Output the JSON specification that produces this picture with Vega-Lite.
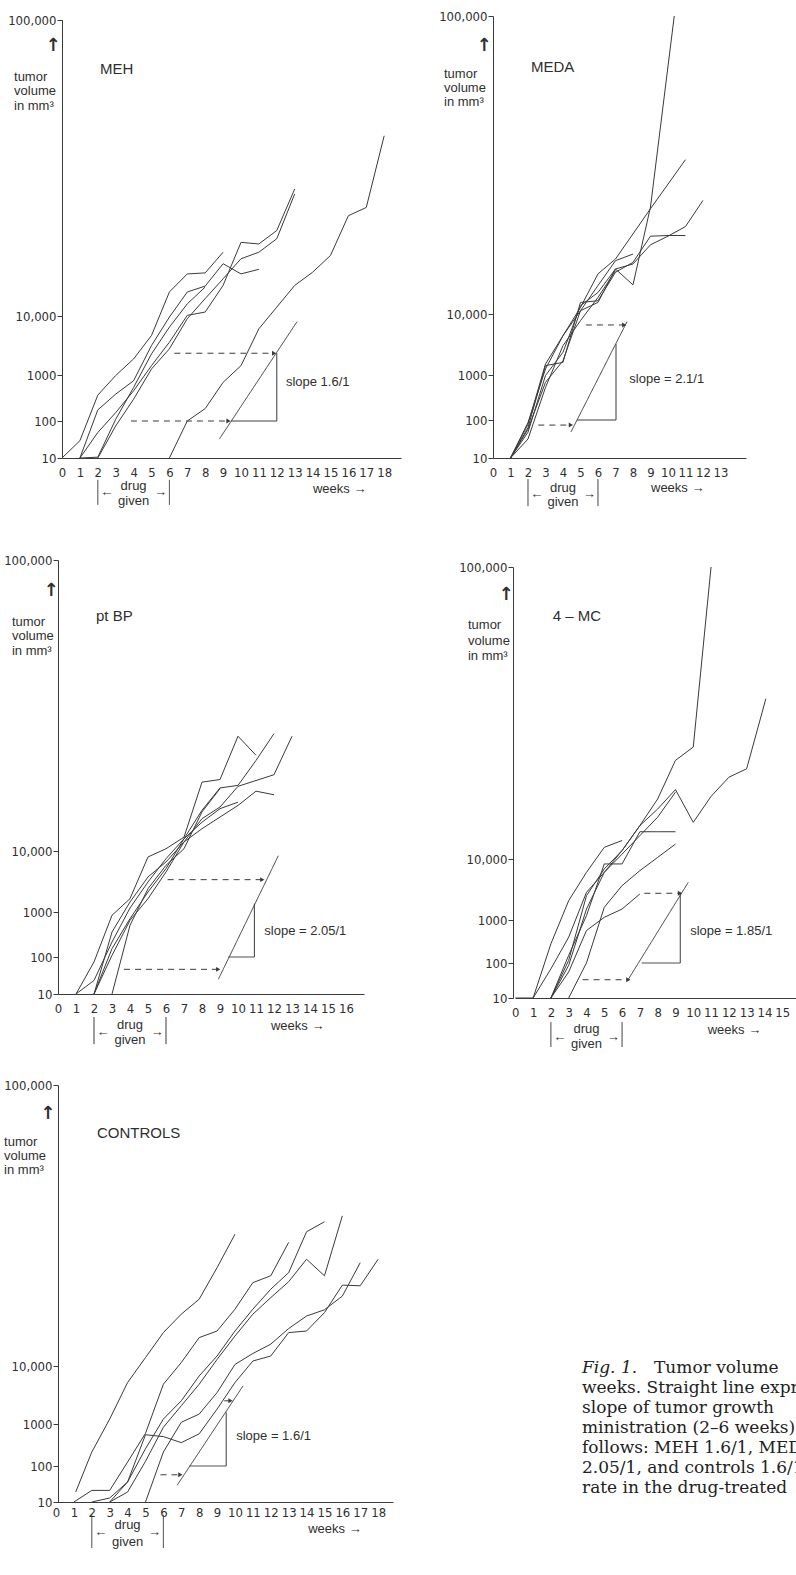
{
"$schema": "https://vega.github.io/schema/vega-lite/v6.json",
"background": "white",
"padding": {"left": 3, "top": 10, "right": 0, "bottom": 0},
"autosize": {"type": "pad"},
"columns": 2,
"spacing": {"row": 87, "column": 92},
"align": "each",
"bounds": "flush",
"config": {
  "view": {"stroke": null},
  "axis": {"grid": false, "domainColor": "#3a3a3a", "domainWidth": 1, "tickColor": "#3a3a3a", "tickWidth": 1, "labelColor": "#2f2f2f", "labelFont": "Liberation Sans Narrow, DejaVu Sans Condensed, Liberation Sans", "labelFontSize": 13, "labelFlush": false, "labelOverlap": false, "labelBound": false},
  "axisY": {"tickSize": 5, "labelPadding": 1},
  "axisX": {"ticks": false, "labelPadding": 8},
  "text": {"font": "Liberation Sans", "color": "#2f2f2f"},
  "line": {"color": "#3a3a3a", "strokeWidth": 1},
  "rule": {"color": "#3a3a3a", "strokeWidth": 1}
},
"datasets": {
"curves": [
{"panel":"MEH","id":"a","week":0,"vol":10},{"panel":"MEH","id":"a","week":1,"vol":52},{"panel":"MEH","id":"a","week":2,"vol":606},{"panel":"MEH","id":"a","week":3,"vol":990},{"panel":"MEH","id":"a","week":4,"vol":3450},{"panel":"MEH","id":"a","week":5,"vol":7030},{"panel":"MEH","id":"a","week":6,"vol":17300},{"panel":"MEH","id":"a","week":7,"vol":22800},{"panel":"MEH","id":"a","week":8,"vol":23100},{"panel":"MEH","id":"a","week":9,"vol":29400},
{"panel":"MEH","id":"b","week":1,"vol":10},{"panel":"MEH","id":"b","week":2,"vol":317},{"panel":"MEH","id":"b","week":3,"vol":626},{"panel":"MEH","id":"b","week":4,"vol":888},{"panel":"MEH","id":"b","week":5,"vol":5500},{"panel":"MEH","id":"b","week":6,"vol":9840},{"panel":"MEH","id":"b","week":7,"vol":17300},{"panel":"MEH","id":"b","week":8,"vol":19100},{"panel":"MEH","id":"b","week":9,"vol":25900},{"panel":"MEH","id":"b","week":10,"vol":22800},{"panel":"MEH","id":"b","week":11,"vol":24200},
{"panel":"MEH","id":"c","week":1,"vol":10},{"panel":"MEH","id":"c","week":2,"vol":12},{"panel":"MEH","id":"c","week":3,"vol":133},{"panel":"MEH","id":"c","week":4,"vol":757},{"panel":"MEH","id":"c","week":5,"vol":4220},{"panel":"MEH","id":"c","week":6,"vol":8300},{"panel":"MEH","id":"c","week":7,"vol":13700},{"panel":"MEH","id":"c","week":8,"vol":18800},
{"panel":"MEH","id":"d","week":1,"vol":10},{"panel":"MEH","id":"d","week":2,"vol":72},{"panel":"MEH","id":"d","week":3,"vol":264},{"panel":"MEH","id":"d","week":4,"vol":691},{"panel":"MEH","id":"d","week":5,"vol":2430},{"panel":"MEH","id":"d","week":6,"vol":6000},{"panel":"MEH","id":"d","week":7,"vol":10200},{"panel":"MEH","id":"d","week":8,"vol":11200},{"panel":"MEH","id":"d","week":9,"vol":19300},{"panel":"MEH","id":"d","week":10,"vol":32400},{"panel":"MEH","id":"d","week":11,"vol":31900},{"panel":"MEH","id":"d","week":12,"vol":36000},{"panel":"MEH","id":"d","week":13,"vol":48600},
{"panel":"MEH","id":"e","week":2,"vol":10},{"panel":"MEH","id":"e","week":3,"vol":88},{"panel":"MEH","id":"e","week":4,"vol":527},{"panel":"MEH","id":"e","week":5,"vol":1920},{"panel":"MEH","id":"e","week":6,"vol":4990},{"panel":"MEH","id":"e","week":7,"vol":9590},{"panel":"MEH","id":"e","week":8,"vol":15300},{"panel":"MEH","id":"e","week":9,"vol":21300},{"panel":"MEH","id":"e","week":10,"vol":27400},{"panel":"MEH","id":"e","week":11,"vol":29400},{"panel":"MEH","id":"e","week":12,"vol":33500},{"panel":"MEH","id":"e","week":13,"vol":47100},
{"panel":"MEH","id":"f","week":6,"vol":10},{"panel":"MEH","id":"f","week":7,"vol":100},{"panel":"MEH","id":"f","week":8,"vol":343},{"panel":"MEH","id":"f","week":9,"vol":856},{"panel":"MEH","id":"f","week":10,"vol":2430},{"panel":"MEH","id":"f","week":11,"vol":8050},{"panel":"MEH","id":"f","week":12,"vol":12700},{"panel":"MEH","id":"f","week":13,"vol":19300},{"panel":"MEH","id":"f","week":14,"vol":23300},{"panel":"MEH","id":"f","week":15,"vol":28400},{"panel":"MEH","id":"f","week":16,"vol":40500},{"panel":"MEH","id":"f","week":17,"vol":43000},{"panel":"MEH","id":"f","week":18,"vol":64800},
{"panel":"MEDA","id":"m1","week":1,"vol":10},{"panel":"MEDA","id":"m1","week":2,"vol":78},{"panel":"MEDA","id":"m1","week":3,"vol":853},{"panel":"MEDA","id":"m1","week":4,"vol":3100},{"panel":"MEDA","id":"m1","week":5,"vol":11000},{"panel":"MEDA","id":"m1","week":6,"vol":13500},{"panel":"MEDA","id":"m1","week":7,"vol":23600},{"panel":"MEDA","id":"m1","week":8,"vol":18800},{"panel":"MEDA","id":"m1","week":9,"vol":42300},{"panel":"MEDA","id":"m1","week":10.36,"vol":100000},
{"panel":"MEDA","id":"m2","week":1,"vol":10},{"panel":"MEDA","id":"m2","week":2,"vol":94},{"panel":"MEDA","id":"m2","week":3,"vol":1890},{"panel":"MEDA","id":"m2","week":4,"vol":6800},{"panel":"MEDA","id":"m2","week":5,"vol":12000},{"panel":"MEDA","id":"m2","week":6,"vol":22100},{"panel":"MEDA","id":"m2","week":7,"vol":26600},{"panel":"MEDA","id":"m2","week":9,"vol":41800},{"panel":"MEDA","id":"m2","week":11,"vol":56600},
{"panel":"MEDA","id":"m3","week":1,"vol":10},{"panel":"MEDA","id":"m3","week":2,"vol":71},{"panel":"MEDA","id":"m3","week":3,"vol":990},{"panel":"MEDA","id":"m3","week":4,"vol":4350},{"panel":"MEDA","id":"m3","week":5,"vol":12500},{"panel":"MEDA","id":"m3","week":6,"vol":16500},{"panel":"MEDA","id":"m3","week":7,"vol":23600},{"panel":"MEDA","id":"m3","week":8,"vol":25100},{"panel":"MEDA","id":"m3","week":9,"vol":30900},{"panel":"MEDA","id":"m3","week":10,"vol":33500},{"panel":"MEDA","id":"m3","week":11,"vol":36400},{"panel":"MEDA","id":"m3","week":12,"vol":44300},
{"panel":"MEDA","id":"m4","week":1,"vol":10},{"panel":"MEDA","id":"m4","week":2,"vol":82},{"panel":"MEDA","id":"m4","week":3,"vol":2380},{"panel":"MEDA","id":"m4","week":4,"vol":2870},{"panel":"MEDA","id":"m4","week":5,"vol":13500},{"panel":"MEDA","id":"m4","week":6,"vol":14000},{"panel":"MEDA","id":"m4","week":7,"vol":22600},{"panel":"MEDA","id":"m4","week":8,"vol":25600},{"panel":"MEDA","id":"m4","week":9,"vol":33500},{"panel":"MEDA","id":"m4","week":10,"vol":33700},{"panel":"MEDA","id":"m4","week":11,"vol":33700},
{"panel":"MEDA","id":"m5","week":1,"vol":10},{"panel":"MEDA","id":"m5","week":2,"vol":90},{"panel":"MEDA","id":"m5","week":3,"vol":2620},{"panel":"MEDA","id":"m5","week":4,"vol":6800},{"panel":"MEDA","id":"m5","week":5,"vol":11000},{"panel":"MEDA","id":"m5","week":6,"vol":18600},{"panel":"MEDA","id":"m5","week":7,"vol":26100},{"panel":"MEDA","id":"m5","week":8,"vol":28100},
{"panel":"MEDA","id":"m6","week":1,"vol":10},{"panel":"MEDA","id":"m6","week":2,"vol":55},{"panel":"MEDA","id":"m6","week":3,"vol":752},{"panel":"MEDA","id":"m6","week":4,"vol":5330},{"panel":"MEDA","id":"m6","week":5,"vol":9020},{"panel":"MEDA","id":"m6","week":6,"vol":15000},{"panel":"MEDA","id":"m6","week":7,"vol":23100},
{"panel":"ptBP","id":"p1","week":1,"vol":10},{"panel":"ptBP","id":"p1","week":2,"vol":88},{"panel":"ptBP","id":"p1","week":3,"vol":934},{"panel":"ptBP","id":"p1","week":4,"vol":2970},{"panel":"ptBP","id":"p1","week":5,"vol":9120},{"panel":"ptBP","id":"p1","week":6,"vol":10700},{"panel":"ptBP","id":"p1","week":7,"vol":14300},{"panel":"ptBP","id":"p1","week":8,"vol":31300},{"panel":"ptBP","id":"p1","week":9,"vol":32100},{"panel":"ptBP","id":"p1","week":10,"vol":45500},{"panel":"ptBP","id":"p1","week":11,"vol":39600},
{"panel":"ptBP","id":"p2","week":1,"vol":10},{"panel":"ptBP","id":"p2","week":2,"vol":43},{"panel":"ptBP","id":"p2","week":3,"vol":400},{"panel":"ptBP","id":"p2","week":4,"vol":1590},{"panel":"ptBP","id":"p2","week":5,"vol":5430},{"panel":"ptBP","id":"p2","week":6,"vol":8870},{"panel":"ptBP","id":"p2","week":7,"vol":13800},{"panel":"ptBP","id":"p2","week":8,"vol":22600},{"panel":"ptBP","id":"p2","week":9,"vol":29500},{"panel":"ptBP","id":"p2","week":10,"vol":30300},{"panel":"ptBP","id":"p2","week":11,"vol":38000},{"panel":"ptBP","id":"p2","week":12,"vol":46300},
{"panel":"ptBP","id":"p3","week":2,"vol":10},{"panel":"ptBP","id":"p3","week":3,"vol":600},{"panel":"ptBP","id":"p3","week":4,"vol":2480},{"panel":"ptBP","id":"p3","week":5,"vol":6170},{"panel":"ptBP","id":"p3","week":6,"vol":8380},{"panel":"ptBP","id":"p3","week":7,"vol":12800},{"panel":"ptBP","id":"p3","week":8,"vol":20000},{"panel":"ptBP","id":"p3","week":9,"vol":23600},{"panel":"ptBP","id":"p3","week":10,"vol":30000},{"panel":"ptBP","id":"p3","week":11,"vol":31800},{"panel":"ptBP","id":"p3","week":12,"vol":33600},{"panel":"ptBP","id":"p3","week":13,"vol":45500},
{"panel":"ptBP","id":"p4","week":2,"vol":10},{"panel":"ptBP","id":"p4","week":3,"vol":267},{"panel":"ptBP","id":"p4","week":4,"vol":867},{"panel":"ptBP","id":"p4","week":5,"vol":3950},{"panel":"ptBP","id":"p4","week":6,"vol":7400},{"panel":"ptBP","id":"p4","week":7,"vol":13800},{"panel":"ptBP","id":"p4","week":8,"vol":18900},{"panel":"ptBP","id":"p4","week":9,"vol":23100},{"panel":"ptBP","id":"p4","week":10,"vol":25100},
{"panel":"ptBP","id":"p5","week":2,"vol":10},{"panel":"ptBP","id":"p5","week":3,"vol":133},{"panel":"ptBP","id":"p5","week":4,"vol":833},{"panel":"ptBP","id":"p5","week":5,"vol":2970},{"panel":"ptBP","id":"p5","week":6,"vol":6900},{"panel":"ptBP","id":"p5","week":7,"vol":12800},{"panel":"ptBP","id":"p5","week":8,"vol":16900},{"panel":"ptBP","id":"p5","week":9,"vol":20500},{"panel":"ptBP","id":"p5","week":10,"vol":24100},{"panel":"ptBP","id":"p5","week":11,"vol":28500},{"panel":"ptBP","id":"p5","week":12,"vol":27400},
{"panel":"ptBP","id":"p6","week":3,"vol":10},{"panel":"ptBP","id":"p6","week":4,"vol":734},{"panel":"ptBP","id":"p6","week":5,"vol":4440},{"panel":"ptBP","id":"p6","week":6,"vol":7890},{"panel":"ptBP","id":"p6","week":7,"vol":10700},{"panel":"ptBP","id":"p6","week":8,"vol":22100},{"panel":"ptBP","id":"p6","week":9,"vol":29300},
{"panel":"MC","id":"c1","week":0,"vol":10},{"panel":"MC","id":"c1","week":1,"vol":10},{"panel":"MC","id":"c1","week":2,"vol":501},{"panel":"MC","id":"c1","week":3,"vol":3850},{"panel":"MC","id":"c1","week":4,"vol":8030},{"panel":"MC","id":"c1","week":5,"vol":13600},{"panel":"MC","id":"c1","week":6,"vol":15700},
{"panel":"MC","id":"c2","week":1,"vol":10},{"panel":"MC","id":"c2","week":2,"vol":85},{"panel":"MC","id":"c2","week":3,"vol":640},{"panel":"MC","id":"c2","week":4,"vol":5080},{"panel":"MC","id":"c2","week":5,"vol":8030},{"panel":"MC","id":"c2","week":6,"vol":12600},{"panel":"MC","id":"c2","week":7,"vol":20300},{"panel":"MC","id":"c2","week":8,"vol":28500},{"panel":"MC","id":"c2","week":9,"vol":40400},{"panel":"MC","id":"c2","week":10,"vol":44500},{"panel":"MC","id":"c2","week":11,"vol":100000},
{"panel":"MC","id":"c3","week":2,"vol":10},{"panel":"MC","id":"c3","week":3,"vol":155},{"panel":"MC","id":"c3","week":4,"vol":4590},{"panel":"MC","id":"c3","week":5,"vol":8530},{"panel":"MC","id":"c3","week":6,"vol":12600},{"panel":"MC","id":"c3","week":7,"vol":20300},{"panel":"MC","id":"c3","week":8,"vol":25400},{"panel":"MC","id":"c3","week":9,"vol":31400},{"panel":"MC","id":"c3","week":10,"vol":21300},{"panel":"MC","id":"c3","week":11,"vol":29300},{"panel":"MC","id":"c3","week":12,"vol":35200},{"panel":"MC","id":"c3","week":13,"vol":37800},{"panel":"MC","id":"c3","week":14.08,"vol":59400},
{"panel":"MC","id":"c4","week":2,"vol":10},{"panel":"MC","id":"c4","week":3,"vol":260},{"panel":"MC","id":"c4","week":4,"vol":1640},{"panel":"MC","id":"c4","week":5,"vol":9270},{"panel":"MC","id":"c4","week":6,"vol":9270},{"panel":"MC","id":"c4","week":7,"vol":18400},{"panel":"MC","id":"c4","week":8,"vol":18400},{"panel":"MC","id":"c4","week":9,"vol":18400},
{"panel":"MC","id":"c5","week":2,"vol":10},{"panel":"MC","id":"c5","week":3,"vol":94},{"panel":"MC","id":"c5","week":4,"vol":2620},{"panel":"MC","id":"c5","week":5,"vol":8030},{"panel":"MC","id":"c5","week":6,"vol":11500},{"panel":"MC","id":"c5","week":7,"vol":17200},{"panel":"MC","id":"c5","week":8,"vol":22900},{"panel":"MC","id":"c5","week":9,"vol":30600},
{"panel":"MC","id":"c6","week":3,"vol":10},{"panel":"MC","id":"c6","week":4,"vol":102},{"panel":"MC","id":"c6","week":5,"vol":2870},{"panel":"MC","id":"c6","week":6,"vol":6070},{"panel":"MC","id":"c6","week":7,"vol":8280},{"panel":"MC","id":"c6","week":8,"vol":10500},{"panel":"MC","id":"c6","week":9,"vol":14600},
{"panel":"MC","id":"c7","week":2,"vol":10},{"panel":"MC","id":"c7","week":3,"vol":77},{"panel":"MC","id":"c7","week":4,"vol":780},{"panel":"MC","id":"c7","week":5,"vol":1390},{"panel":"MC","id":"c7","week":6,"vol":2620},{"panel":"MC","id":"c7","week":7,"vol":4840},
{"panel":"CON","id":"k1","week":1.1,"vol":35},{"panel":"CON","id":"k1","week":2,"vol":398},{"panel":"CON","id":"k1","week":3,"vol":1770},{"panel":"CON","id":"k1","week":4,"vol":7430},{"panel":"CON","id":"k1","week":5,"vol":12700},{"panel":"CON","id":"k1","week":6,"vol":20700},{"panel":"CON","id":"k1","week":7,"vol":26600},{"panel":"CON","id":"k1","week":8,"vol":31400},{"panel":"CON","id":"k1","week":9,"vol":41500},{"panel":"CON","id":"k1","week":10,"vol":52200},
{"panel":"CON","id":"k2","week":1,"vol":10},{"panel":"CON","id":"k2","week":2,"vol":39},{"panel":"CON","id":"k2","week":3,"vol":39},{"panel":"CON","id":"k2","week":4,"vol":185},{"panel":"CON","id":"k2","week":5,"vol":800},{"panel":"CON","id":"k2","week":6,"vol":7170},{"panel":"CON","id":"k2","week":7,"vol":11100},{"panel":"CON","id":"k2","week":8,"vol":19100},{"panel":"CON","id":"k2","week":9,"vol":21200},{"panel":"CON","id":"k2","week":10,"vol":28200},{"panel":"CON","id":"k2","week":11,"vol":36700},{"panel":"CON","id":"k2","week":12,"vol":38900},{"panel":"CON","id":"k2","week":13,"vol":49600},
{"panel":"CON","id":"k3","week":2,"vol":10},{"panel":"CON","id":"k3","week":3,"vol":20},{"panel":"CON","id":"k3","week":4,"vol":60},{"panel":"CON","id":"k3","week":5,"vol":770},{"panel":"CON","id":"k3","week":6,"vol":730},{"panel":"CON","id":"k3","week":7,"vol":600},{"panel":"CON","id":"k3","week":8,"vol":790},{"panel":"CON","id":"k3","week":9,"vol":3310},{"panel":"CON","id":"k3","week":10,"vol":7430},{"panel":"CON","id":"k3","week":11,"vol":11600},{"panel":"CON","id":"k3","week":12,"vol":13200},{"panel":"CON","id":"k3","week":13,"vol":20700},{"panel":"CON","id":"k3","week":14,"vol":21200},{"panel":"CON","id":"k3","week":15,"vol":27100},{"panel":"CON","id":"k3","week":16,"vol":35900},{"panel":"CON","id":"k3","week":17,"vol":35700},{"panel":"CON","id":"k3","week":18,"vol":44200},
{"panel":"CON","id":"k4","week":3,"vol":10},{"panel":"CON","id":"k4","week":4,"vol":60},{"panel":"CON","id":"k4","week":5,"vol":470},{"panel":"CON","id":"k4","week":6,"vol":1770},{"panel":"CON","id":"k4","week":7,"vol":4600},{"panel":"CON","id":"k4","week":8,"vol":8460},{"panel":"CON","id":"k4","week":9,"vol":13200},{"panel":"CON","id":"k4","week":10,"vol":21200},{"panel":"CON","id":"k4","week":11,"vol":28200},{"panel":"CON","id":"k4","week":12,"vol":34600},{"panel":"CON","id":"k4","week":13,"vol":39900},{"panel":"CON","id":"k4","week":14,"vol":53000},{"panel":"CON","id":"k4","week":15,"vol":56200},
{"panel":"CON","id":"k5","week":3,"vol":10},{"panel":"CON","id":"k5","week":4,"vol":35},{"panel":"CON","id":"k5","week":5,"vol":200},{"panel":"CON","id":"k5","week":6,"vol":930},{"panel":"CON","id":"k5","week":7,"vol":3830},{"panel":"CON","id":"k5","week":8,"vol":7170},{"panel":"CON","id":"k5","week":9,"vol":12100},{"panel":"CON","id":"k5","week":10,"vol":19600},{"panel":"CON","id":"k5","week":11,"vol":26600},{"panel":"CON","id":"k5","week":12,"vol":31900},{"panel":"CON","id":"k5","week":13,"vol":37000},{"panel":"CON","id":"k5","week":14,"vol":44200},{"panel":"CON","id":"k5","week":15,"vol":38900},{"panel":"CON","id":"k5","week":16,"vol":58100},
{"panel":"CON","id":"k6","week":5,"vol":10},{"panel":"CON","id":"k6","week":6,"vol":400},{"panel":"CON","id":"k6","week":7,"vol":1260},{"panel":"CON","id":"k6","week":8,"vol":2540},{"panel":"CON","id":"k6","week":9,"vol":5880},{"panel":"CON","id":"k6","week":10,"vol":10500},{"panel":"CON","id":"k6","week":11,"vol":14000},{"panel":"CON","id":"k6","week":12,"vol":17000},{"panel":"CON","id":"k6","week":13,"vol":22000},{"panel":"CON","id":"k6","week":14,"vol":26000},{"panel":"CON","id":"k6","week":15,"vol":28000},{"panel":"CON","id":"k6","week":16,"vol":32400},{"panel":"CON","id":"k6","week":17,"vol":43100}
],
"segs": [
{"panel":"MEH","week":8.79,"vol":56,"week2":13.13,"vol2":9130,"style":"solid"},
{"panel":"MEH","week":9.44,"vol":100,"week2":12.0,"vol2":100,"style":"solid"},
{"panel":"MEH","week":12.0,"vol":100,"week2":12.0,"vol2":4320,"style":"solid"},
{"panel":"MEH","week":3.85,"vol":100,"week2":9.3,"vol2":100,"style":"dashed"},
{"panel":"MEH","week":6.28,"vol":4320,"week2":11.8,"vol2":4320,"style":"dashed"},
{"panel":"MEH","week":2,"vol":-43,"week2":2,"vol2":-104,"style":"solid"},
{"panel":"MEH","week":6,"vol":-43,"week2":6,"vol2":-104,"style":"solid"},
{"panel":"MEDA","week":4.46,"vol":72,"week2":7.66,"vol2":8870,"style":"solid"},
{"panel":"MEDA","week":4.8,"vol":100,"week2":7.03,"vol2":100,"style":"solid"},
{"panel":"MEDA","week":7.03,"vol":100,"week2":7.03,"vol2":5580,"style":"solid"},
{"panel":"MEDA","week":2.59,"vol":88,"week2":4.4,"vol2":88,"style":"dashed"},
{"panel":"MEDA","week":5.31,"vol":8380,"week2":7.45,"vol2":8380,"style":"dashed"},
{"panel":"MEDA","week":2,"vol":-40,"week2":2,"vol2":-104,"style":"solid"},
{"panel":"MEDA","week":6,"vol":-40,"week2":6,"vol2":-104,"style":"solid"},
{"panel":"ptBP","week":8.91,"vol":46,"week2":12.24,"vol2":9300,"style":"solid"},
{"panel":"ptBP","week":9.46,"vol":100,"week2":10.91,"vol2":100,"style":"solid"},
{"panel":"ptBP","week":10.91,"vol":100,"week2":10.91,"vol2":2230,"style":"solid"},
{"panel":"ptBP","week":3.67,"vol":70,"week2":8.85,"vol2":70,"style":"dashed"},
{"panel":"ptBP","week":6.09,"vol":5770,"week2":11.3,"vol2":5770,"style":"dashed"},
{"panel":"ptBP","week":2,"vol":-46,"week2":2,"vol2":-112,"style":"solid"},
{"panel":"ptBP","week":6,"vol":-46,"week2":6,"vol2":-112,"style":"solid"},
{"panel":"MC","week":6.31,"vol":55,"week2":9.72,"vol2":6560,"style":"solid"},
{"panel":"MC","week":7.1,"vol":100,"week2":9.27,"vol2":100,"style":"solid"},
{"panel":"MC","week":9.27,"vol":100,"week2":9.27,"vol2":5090,"style":"solid"},
{"panel":"MC","week":3.78,"vol":57,"week2":6.3,"vol2":57,"style":"dashed"},
{"panel":"MC","week":7.25,"vol":4940,"week2":9.2,"vol2":4940,"style":"dashed"},
{"panel":"MC","week":2,"vol":-52,"week2":2,"vol2":-116,"style":"solid"},
{"panel":"MC","week":6,"vol":-52,"week2":6,"vol2":-116,"style":"solid"},
{"panel":"CON","week":6.77,"vol":52,"week2":10.45,"vol2":6910,"style":"solid"},
{"panel":"CON","week":7.46,"vol":100,"week2":9.51,"vol2":100,"style":"solid"},
{"panel":"CON","week":9.51,"vol":100,"week2":9.51,"vol2":2800,"style":"solid"},
{"panel":"CON","week":5.84,"vol":78,"week2":6.9,"vol2":78,"style":"dashed"},
{"panel":"CON","week":9.4,"vol":4600,"week2":9.7,"vol2":4600,"style":"dashed"},
{"panel":"CON","week":2,"vol":-22,"week2":2,"vol2":-105,"style":"solid"},
{"panel":"CON","week":6,"vol":-22,"week2":6,"vol2":-105,"style":"solid"}
],
"heads": [
{"panel":"MEH","week":9.3,"vol":100},{"panel":"MEH","week":11.85,"vol":4320},
{"panel":"MEDA","week":4.45,"vol":88},{"panel":"MEDA","week":7.5,"vol":8380},
{"panel":"ptBP","week":8.9,"vol":70},{"panel":"ptBP","week":11.35,"vol":5770},
{"panel":"MC","week":6.35,"vol":57},{"panel":"MC","week":9.25,"vol":4940},
{"panel":"CON","week":6.95,"vol":78},{"panel":"CON","week":9.75,"vol":4600}
],
"texts": [
{"panel":"MEH","role":"title","week":2.12,"vol":85100,"label":"MEH"},
{"panel":"MEH","role":"left","week":-2.68,"vol":82700,"label":"tumor"},
{"panel":"MEH","role":"left","week":-2.68,"vol":78400,"label":"volume"},
{"panel":"MEH","role":"left","week":-2.68,"vol":73800,"label":"in mm³"},
{"panel":"MEH","role":"up","week":-0.5,"vol":92100,"label":"↑"},
{"panel":"MEH","role":"left","week":12.51,"vol":863,"label":"slope 1.6/1"},
{"panel":"MEH","role":"left","week":14.02,"vol":-65,"label":"weeks →"},
{"panel":"MEH","role":"center","week":4,"vol":-57,"label":"drug"},
{"panel":"MEH","role":"center","week":4,"vol":-95,"label":"given"},
{"panel":"MEH","role":"center","week":2.5,"vol":-73,"label":"←"},
{"panel":"MEH","role":"center","week":5.5,"vol":-73,"label":"→"},
{"panel":"MEDA","role":"title","week":2.17,"vol":84500,"label":"MEDA"},
{"panel":"MEDA","role":"left","week":-2.8,"vol":82500,"label":"tumor"},
{"panel":"MEDA","role":"left","week":-2.8,"vol":78300,"label":"volume"},
{"panel":"MEDA","role":"left","week":-2.8,"vol":74000,"label":"in mm³"},
{"panel":"MEDA","role":"up","week":-0.51,"vol":90900,"label":"↑"},
{"panel":"MEDA","role":"left","week":7.79,"vol":920,"label":"slope = 2.1/1"},
{"panel":"MEDA","role":"left","week":9.03,"vol":-61,"label":"weeks →"},
{"panel":"MEDA","role":"center","week":4,"vol":-60,"label":"drug"},
{"panel":"MEDA","role":"center","week":4,"vol":-94,"label":"given"},
{"panel":"MEDA","role":"center","week":2.5,"vol":-75,"label":"←"},
{"panel":"MEDA","role":"center","week":5.5,"vol":-75,"label":"→"},
{"panel":"ptBP","role":"title","week":2.11,"vol":82700,"label":"pt BP"},
{"panel":"ptBP","role":"left","week":-2.56,"vol":80800,"label":"tumor"},
{"panel":"ptBP","role":"left","week":-2.56,"vol":76400,"label":"volume"},
{"panel":"ptBP","role":"left","week":-2.56,"vol":71800,"label":"in mm³"},
{"panel":"ptBP","role":"up","week":-0.39,"vol":90300,"label":"↑"},
{"panel":"ptBP","role":"left","week":11.46,"vol":626,"label":"slope = 2.05/1"},
{"panel":"ptBP","role":"left","week":11.83,"vol":-68,"label":"weeks →"},
{"panel":"ptBP","role":"center","week":4,"vol":-66,"label":"drug"},
{"panel":"ptBP","role":"center","week":4,"vol":-102,"label":"given"},
{"panel":"ptBP","role":"center","week":2.5,"vol":-82,"label":"←"},
{"panel":"ptBP","role":"center","week":5.5,"vol":-82,"label":"→"},
{"panel":"MC","role":"title","week":2.1,"vol":85000,"label":"4 – MC"},
{"panel":"MC","role":"left","week":-2.66,"vol":82100,"label":"tumor"},
{"panel":"MC","role":"left","week":-2.66,"vol":77300,"label":"volume"},
{"panel":"MC","role":"left","week":-2.66,"vol":72700,"label":"in mm³"},
{"panel":"MC","role":"up","week":-0.52,"vol":91400,"label":"↑"},
{"panel":"MC","role":"left","week":9.83,"vol":778,"label":"slope = 1.85/1"},
{"panel":"MC","role":"left","week":10.81,"vol":-73,"label":"weeks →"},
{"panel":"MC","role":"center","week":4,"vol":-69,"label":"drug"},
{"panel":"MC","role":"center","week":4,"vol":-109,"label":"given"},
{"panel":"MC","role":"center","week":2.5,"vol":-89,"label":"←"},
{"panel":"MC","role":"center","week":5.5,"vol":-89,"label":"→"},
{"panel":"CON","role":"title","week":2.29,"vol":84500,"label":"CONTROLS"},
{"panel":"CON","role":"left","week":-2.9,"vol":81700,"label":"tumor"},
{"panel":"CON","role":"left","week":-2.9,"vol":77200,"label":"volume"},
{"panel":"CON","role":"left","week":-2.9,"vol":72700,"label":"in mm³"},
{"panel":"CON","role":"up","week":-0.46,"vol":90700,"label":"↑"},
{"panel":"CON","role":"left","week":10.07,"vol":738,"label":"slope = 1.6/1"},
{"panel":"CON","role":"left","week":14.09,"vol":-57,"label":"weeks →"},
{"panel":"CON","role":"center","week":4,"vol":-48,"label":"drug"},
{"panel":"CON","role":"center","week":4,"vol":-90,"label":"given"},
{"panel":"CON","role":"center","week":2.5,"vol":-66,"label":"←"},
{"panel":"CON","role":"center","week":5.5,"vol":-66,"label":"→"}
],
"caption": [
{"line":2,"t":"weeks. Straight line expresses"},
{"line":3,"t":"slope of tumor growth"},
{"line":4,"t":"ministration (2–6 weeks)"},
{"line":5,"t":"follows: MEH 1.6/1, MEDA"},
{"line":6,"t":"2.05/1, and controls 1.6/1."},
{"line":7,"t":"rate in the drug-treated"}
]
},
"concat": [
{
 "width": 343, "height": 442,
 "encoding": {
  "x": {"field": "week", "type": "quantitative", "scale": {"domain": [0, 18.94], "range": [4, 343], "nice": false, "zero": false}, "axis": {"title": null, "values": [0,1,2,3,4,5,6,7,8,9,10,11,12,13,14,15,16,17,18], "format": "d"}},
  "y": {"field": "vol", "type": "quantitative", "scale": {"domain": [10, 100, 1000, 10000, 100000], "range": [442, 405, 359, 300, 4], "nice": false, "zero": false}, "axis": {"title": null, "offset": -4, "values": [10, 100, 1000, 10000, 100000], "labelExpr": "datum.value >= 10000 ? format(datum.value, ',') : '' + datum.value"}}
 },
 "layer": [
  {"data": {"name": "curves"}, "transform": [{"filter": "datum.panel === 'MEH'"}], "mark": {"type": "line"}, "encoding": {"detail": {"field": "id", "type": "nominal"}}},
  {"data": {"name": "segs"}, "transform": [{"filter": "datum.panel === 'MEH'"}], "mark": {"type": "rule"}, "encoding": {"x2": {"field": "week2"}, "y2": {"field": "vol2"}, "strokeDash": {"field": "style", "type": "nominal", "scale": {"domain": ["solid", "dashed"], "range": [[1, 0], [6, 5]]}, "legend": null}}},
  {"data": {"name": "heads"}, "transform": [{"filter": "datum.panel === 'MEH'"}], "mark": {"type": "point", "shape": "triangle-right", "filled": true, "size": 24, "color": "#3a3a3a", "opacity": 1}},
  {"data": {"name": "texts"}, "transform": [{"filter": "datum.panel === 'MEH' && datum.role === 'left'"}], "mark": {"type": "text", "align": "left", "baseline": "middle", "fontSize": 13}, "encoding": {"text": {"field": "label"}}},
  {"data": {"name": "texts"}, "transform": [{"filter": "datum.panel === 'MEH' && datum.role === 'title'"}], "mark": {"type": "text", "align": "left", "baseline": "middle", "fontSize": 15}, "encoding": {"text": {"field": "label"}}},
  {"data": {"name": "texts"}, "transform": [{"filter": "datum.panel === 'MEH' && datum.role === 'center'"}], "mark": {"type": "text", "align": "center", "baseline": "middle", "fontSize": 13}, "encoding": {"text": {"field": "label"}}},
  {"data": {"name": "texts"}, "transform": [{"filter": "datum.panel === 'MEH' && datum.role === 'up'"}], "mark": {"type": "text", "align": "center", "baseline": "middle", "fontSize": 18, "fontWeight": "bold", "font": "DejaVu Sans"}, "encoding": {"text": {"field": "label"}}}
 ]
},
{
 "width": 253, "height": 442,
 "encoding": {
  "x": {"field": "week", "type": "quantitative", "scale": {"domain": [0, 14.46], "range": [0, 253], "nice": false, "zero": false}, "axis": {"title": null, "values": [0,1,2,3,4,5,6,7,8,9,10,11,12,13], "format": "d"}},
  "y": {"field": "vol", "type": "quantitative", "scale": {"domain": [10, 100, 1000, 10000, 100000], "range": [442, 404, 359, 298, 0], "nice": false, "zero": false}, "axis": {"title": null, "values": [10, 100, 1000, 10000, 100000], "labelExpr": "datum.value >= 10000 ? format(datum.value, ',') : '' + datum.value"}}
 },
 "layer": [
  {"data": {"name": "curves"}, "transform": [{"filter": "datum.panel === 'MEDA'"}], "mark": {"type": "line"}, "encoding": {"detail": {"field": "id", "type": "nominal"}}},
  {"data": {"name": "segs"}, "transform": [{"filter": "datum.panel === 'MEDA'"}], "mark": {"type": "rule"}, "encoding": {"x2": {"field": "week2"}, "y2": {"field": "vol2"}, "strokeDash": {"field": "style", "type": "nominal", "scale": {"domain": ["solid", "dashed"], "range": [[1, 0], [6, 5]]}, "legend": null}}},
  {"data": {"name": "heads"}, "transform": [{"filter": "datum.panel === 'MEDA'"}], "mark": {"type": "point", "shape": "triangle-right", "filled": true, "size": 24, "color": "#3a3a3a", "opacity": 1}},
  {"data": {"name": "texts"}, "transform": [{"filter": "datum.panel === 'MEDA' && datum.role === 'left'"}], "mark": {"type": "text", "align": "left", "baseline": "middle", "fontSize": 13}, "encoding": {"text": {"field": "label"}}},
  {"data": {"name": "texts"}, "transform": [{"filter": "datum.panel === 'MEDA' && datum.role === 'title'"}], "mark": {"type": "text", "align": "left", "baseline": "middle", "fontSize": 15}, "encoding": {"text": {"field": "label"}}},
  {"data": {"name": "texts"}, "transform": [{"filter": "datum.panel === 'MEDA' && datum.role === 'center'"}], "mark": {"type": "text", "align": "center", "baseline": "middle", "fontSize": 13}, "encoding": {"text": {"field": "label"}}},
  {"data": {"name": "texts"}, "transform": [{"filter": "datum.panel === 'MEDA' && datum.role === 'up'"}], "mark": {"type": "text", "align": "center", "baseline": "middle", "fontSize": 18, "fontWeight": "bold", "font": "DejaVu Sans"}, "encoding": {"text": {"field": "label"}}}
 ]
},
{
 "width": 343, "height": 449,
 "encoding": {
  "x": {"field": "week", "type": "quantitative", "scale": {"domain": [0, 17], "range": [0, 306], "nice": false, "zero": false}, "axis": {"title": null, "values": [0,1,2,3,4,5,6,7,8,9,10,11,12,13,14,15,16], "format": "d"}},
  "y": {"field": "vol", "type": "quantitative", "scale": {"domain": [10, 100, 1000, 10000, 100000], "range": [449, 412, 367, 306, 15], "nice": false, "zero": false}, "axis": {"title": null, "values": [10, 100, 1000, 10000, 100000], "labelExpr": "datum.value >= 10000 ? format(datum.value, ',') : '' + datum.value"}}
 },
 "layer": [
  {"data": {"name": "curves"}, "transform": [{"filter": "datum.panel === 'ptBP'"}], "mark": {"type": "line"}, "encoding": {"detail": {"field": "id", "type": "nominal"}}},
  {"data": {"name": "segs"}, "transform": [{"filter": "datum.panel === 'ptBP'"}], "mark": {"type": "rule"}, "encoding": {"x2": {"field": "week2"}, "y2": {"field": "vol2"}, "strokeDash": {"field": "style", "type": "nominal", "scale": {"domain": ["solid", "dashed"], "range": [[1, 0], [6, 5]]}, "legend": null}}},
  {"data": {"name": "heads"}, "transform": [{"filter": "datum.panel === 'ptBP'"}], "mark": {"type": "point", "shape": "triangle-right", "filled": true, "size": 24, "color": "#3a3a3a", "opacity": 1}},
  {"data": {"name": "texts"}, "transform": [{"filter": "datum.panel === 'ptBP' && datum.role === 'left'"}], "mark": {"type": "text", "align": "left", "baseline": "middle", "fontSize": 13}, "encoding": {"text": {"field": "label"}}},
  {"data": {"name": "texts"}, "transform": [{"filter": "datum.panel === 'ptBP' && datum.role === 'title'"}], "mark": {"type": "text", "align": "left", "baseline": "middle", "fontSize": 15}, "encoding": {"text": {"field": "label"}}},
  {"data": {"name": "texts"}, "transform": [{"filter": "datum.panel === 'ptBP' && datum.role === 'center'"}], "mark": {"type": "text", "align": "center", "baseline": "middle", "fontSize": 13}, "encoding": {"text": {"field": "label"}}},
  {"data": {"name": "texts"}, "transform": [{"filter": "datum.panel === 'ptBP' && datum.role === 'up'"}], "mark": {"type": "text", "align": "center", "baseline": "middle", "fontSize": 18, "fontWeight": "bold", "font": "DejaVu Sans"}, "encoding": {"text": {"field": "label"}}}
 ]
},
{
 "width": 304, "height": 453,
 "encoding": {
  "x": {"field": "week", "type": "quantitative", "scale": {"domain": [0, 15.83], "range": [22.3, 304], "nice": false, "zero": false}, "axis": {"title": null, "values": [0,1,2,3,4,5,6,7,8,9,10,11,12,13,14,15], "format": "d"}},
  "y": {"field": "vol", "type": "quantitative", "scale": {"domain": [10, 100, 1000, 10000, 100000], "range": [453, 418, 375, 314, 22], "nice": false, "zero": false}, "axis": {"title": null, "offset": -20, "values": [10, 100, 1000, 10000, 100000], "labelExpr": "datum.value >= 10000 ? format(datum.value, ',') : '' + datum.value"}}
 },
 "layer": [
  {"data": {"name": "curves"}, "transform": [{"filter": "datum.panel === 'MC'"}], "mark": {"type": "line"}, "encoding": {"detail": {"field": "id", "type": "nominal"}}},
  {"data": {"name": "segs"}, "transform": [{"filter": "datum.panel === 'MC'"}], "mark": {"type": "rule"}, "encoding": {"x2": {"field": "week2"}, "y2": {"field": "vol2"}, "strokeDash": {"field": "style", "type": "nominal", "scale": {"domain": ["solid", "dashed"], "range": [[1, 0], [6, 5]]}, "legend": null}}},
  {"data": {"name": "heads"}, "transform": [{"filter": "datum.panel === 'MC'"}], "mark": {"type": "point", "shape": "triangle-right", "filled": true, "size": 24, "color": "#3a3a3a", "opacity": 1}},
  {"data": {"name": "texts"}, "transform": [{"filter": "datum.panel === 'MC' && datum.role === 'left'"}], "mark": {"type": "text", "align": "left", "baseline": "middle", "fontSize": 13}, "encoding": {"text": {"field": "label"}}},
  {"data": {"name": "texts"}, "transform": [{"filter": "datum.panel === 'MC' && datum.role === 'title'"}], "mark": {"type": "text", "align": "left", "baseline": "middle", "fontSize": 15}, "encoding": {"text": {"field": "label"}}},
  {"data": {"name": "texts"}, "transform": [{"filter": "datum.panel === 'MC' && datum.role === 'center'"}], "mark": {"type": "text", "align": "center", "baseline": "middle", "fontSize": 13}, "encoding": {"text": {"field": "label"}}},
  {"data": {"name": "texts"}, "transform": [{"filter": "datum.panel === 'MC' && datum.role === 'up'"}], "mark": {"type": "text", "align": "center", "baseline": "middle", "fontSize": 18, "fontWeight": "bold", "font": "DejaVu Sans"}, "encoding": {"text": {"field": "label"}}}
 ]
},
{
 "width": 343, "height": 417,
 "encoding": {
  "x": {"field": "week", "type": "quantitative", "scale": {"domain": [0, 18.83], "range": [-2, 335], "nice": false, "zero": false}, "axis": {"title": null, "labelPadding": 4, "values": [0,1,2,3,4,5,6,7,8,9,10,11,12,13,14,15,16,17,18], "format": "d"}},
  "y": {"field": "vol", "type": "quantitative", "scale": {"domain": [10, 100, 1000, 10000, 100000], "range": [417, 381, 339, 281, 0], "nice": false, "zero": false}, "axis": {"title": null, "values": [10, 100, 1000, 10000, 100000], "labelExpr": "datum.value >= 10000 ? format(datum.value, ',') : '' + datum.value"}}
 },
 "layer": [
  {"data": {"name": "curves"}, "transform": [{"filter": "datum.panel === 'CON'"}], "mark": {"type": "line"}, "encoding": {"detail": {"field": "id", "type": "nominal"}}},
  {"data": {"name": "segs"}, "transform": [{"filter": "datum.panel === 'CON'"}], "mark": {"type": "rule"}, "encoding": {"x2": {"field": "week2"}, "y2": {"field": "vol2"}, "strokeDash": {"field": "style", "type": "nominal", "scale": {"domain": ["solid", "dashed"], "range": [[1, 0], [6, 5]]}, "legend": null}}},
  {"data": {"name": "heads"}, "transform": [{"filter": "datum.panel === 'CON'"}], "mark": {"type": "point", "shape": "triangle-right", "filled": true, "size": 24, "color": "#3a3a3a", "opacity": 1}},
  {"data": {"name": "texts"}, "transform": [{"filter": "datum.panel === 'CON' && datum.role === 'left'"}], "mark": {"type": "text", "align": "left", "baseline": "middle", "fontSize": 13}, "encoding": {"text": {"field": "label"}}},
  {"data": {"name": "texts"}, "transform": [{"filter": "datum.panel === 'CON' && datum.role === 'title'"}], "mark": {"type": "text", "align": "left", "baseline": "middle", "fontSize": 15}, "encoding": {"text": {"field": "label"}}},
  {"data": {"name": "texts"}, "transform": [{"filter": "datum.panel === 'CON' && datum.role === 'center'"}], "mark": {"type": "text", "align": "center", "baseline": "middle", "fontSize": 13}, "encoding": {"text": {"field": "label"}}},
  {"data": {"name": "texts"}, "transform": [{"filter": "datum.panel === 'CON' && datum.role === 'up'"}], "mark": {"type": "text", "align": "center", "baseline": "middle", "fontSize": 18, "fontWeight": "bold", "font": "DejaVu Sans"}, "encoding": {"text": {"field": "label"}}}
 ]
},
{
 "width": 304, "height": 417,
 "layer": [
  {"data": {"name": "caption"}, "mark": {"type": "text", "align": "left", "baseline": "middle", "font": "DejaVu Serif", "fontSize": 17, "color": "#222"},
   "encoding": {"x": {"datum": 89, "type": "quantitative", "scale": {"domain": [0, 304], "nice": false, "zero": false}, "axis": null}, "y": {"field": "line", "type": "quantitative", "scale": {"domain": [-13.15, 7.7], "reverse": true, "nice": false, "zero": false}, "axis": null}, "text": {"field": "t"}}},
  {"data": {"values": [{"line": 1, "t": "Fig. 1."}]}, "mark": {"type": "text", "align": "left", "baseline": "middle", "font": "DejaVu Serif", "fontSize": 17, "fontStyle": "italic", "color": "#222"},
   "encoding": {"x": {"datum": 89, "type": "quantitative", "scale": {"domain": [0, 304], "nice": false, "zero": false}, "axis": null}, "y": {"field": "line", "type": "quantitative", "scale": {"domain": [-13.15, 7.7], "reverse": true, "nice": false, "zero": false}, "axis": null}, "text": {"field": "t"}}},
  {"data": {"values": [{"line": 1, "t": "Tumor volume"}]}, "mark": {"type": "text", "align": "left", "baseline": "middle", "font": "DejaVu Serif", "fontSize": 17, "color": "#222"},
   "encoding": {"x": {"datum": 161, "type": "quantitative", "scale": {"domain": [0, 304], "nice": false, "zero": false}, "axis": null}, "y": {"field": "line", "type": "quantitative", "scale": {"domain": [-13.15, 7.7], "reverse": true, "nice": false, "zero": false}, "axis": null}, "text": {"field": "t"}}}
 ]
}
]
}
